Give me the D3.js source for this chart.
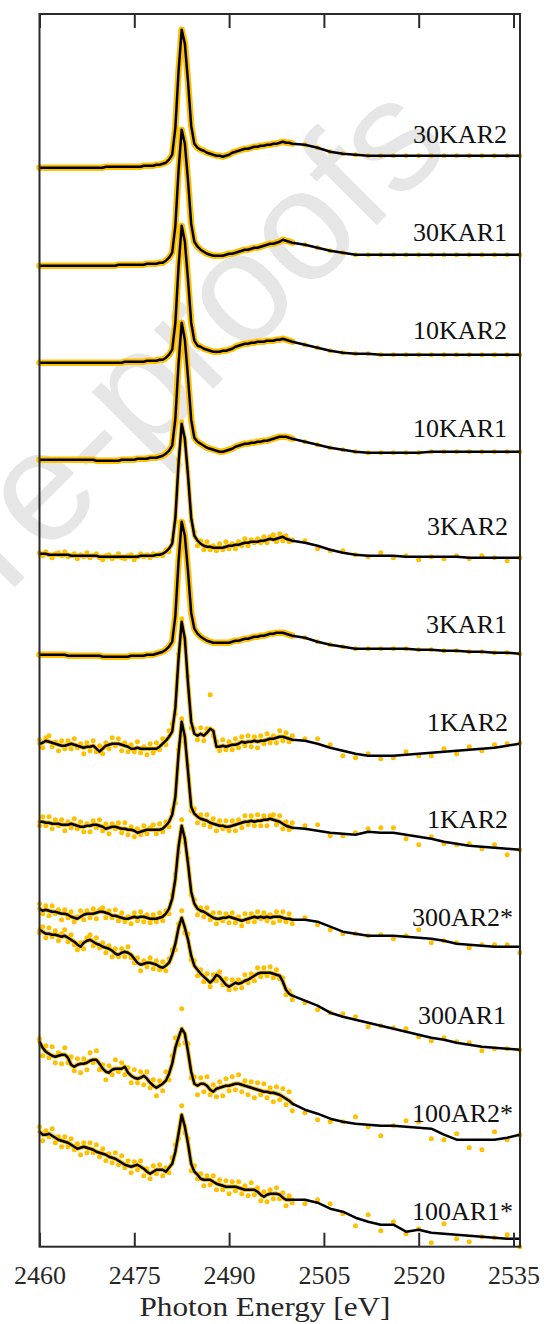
<!DOCTYPE html>
<html><head><meta charset="utf-8">
<script src="https://cdn.jsdelivr.net/npm/d3@7"></script>
<style>body{margin:0;background:#fff}</style>
</head><body>
<svg id="c" width="544" height="1324"></svg>
<script>
// ---------------- DATA ----------------
// photon energy grid [eV]
const energy = [
2460,2460.5,2461,2461.5,2462,2462.5,2463,2463.5,2464,2464.5,
2465,2465.5,2466,2466.5,2467,2467.5,2468,2468.5,2469,2469.5,
2470,2470.5,2471,2471.5,2472,2472.5,2473,2473.5,2474,2474.5,
2475,2475.5,2476,2476.5,2477,2477.5,
2478,2478.5,2479,2479.5,2480,2480.5,2481,2481.5,2482,2482.5,
2483,2483.5,2484,2484.5,2485,2485.5,2486,2486.5,2487,2487.5,
2488,2488.5,2489,2489.5,2490,2490.5,2491,2491.5,2492,2492.5,
2493,2493.5,2494,2494.5,2495,2495.5,2496,2496.5,2497,2497.5,
2498,2498.5,2499,2499.5,2500,
2502,2504,2506,2508,2510,2512,2514,2516,2518,2520,2522,2524,2526,2528,2530,2532,2534,2536];

const xTicks = [2460,2475,2490,2505,2520,2535];
const samples = ["30KAR2","30KAR1","10KAR2","10KAR1","3KAR2","3KAR1","1KAR2","1KAR2","300AR2*","300AR1","100AR2*","100AR1*"];
// vertical stacking offsets (normalized intensity x100)
const offsets = [1079,981,884,787,693,592,503,425,338,317,205,115];

// smoothed spectra (normalized intensity x100, relative to offset)
const fit_30KAR2 = [0,0,0,0,0,0,0,0,0,0, 0,0,0,0,0,0,0,0,0,0, 0,1,1,1,1,1,1,1,1,1, 1,1,1,2,2,2,
 2,3,3,4,5,8,13,40,96,138,124,86,42,24,20,18,17,15,14,13,
 12,12,11,12,13,15,16,17,18,19,19,20,21,21,22,22,23,23,24,24,25,26,25,25,24,
 23,20,16,14,13,12,12,12,12,12,12,12,12,12,12,12,12,12];
const fit_30KAR1 = [0,0,0,0,0,0,0,0,0,0, 0,0,0,0,0,0,0,0,0,0, 0,0,0,0,0,1,1,1,1,1, 1,1,1,1,2,2,
 2,2,3,3,5,8,13,40,95,136,122,85,42,24,19,16,14,12,11,10,
 10,10,10,11,12,12,13,14,15,16,16,17,18,18,19,20,21,22,22,23,24,26,25,24,23,
 21,18,15,13,11,11,11,11,11,11,11,11,11,11,11,11,11,11];
const fit_10KAR2 = [0,0,0,0,0,0,0,0,0,0, 0,0,0,0,0,0,0,0,0,0, 0,0,0,0,0,0,0,1,1,1, 1,1,1,1,2,2,
 2,2,3,3,5,8,13,40,96,137,121,83,40,22,17,16,14,13,12,11,
 11,11,12,12,13,14,16,17,18,19,19,20,20,21,21,21,22,22,22,23,23,24,23,22,21,
 18,15,12,10,9,9,8,8,8,8,8,8,8,8,8,8,8,8];
const fit_10KAR1 = [0,0,0,0,0,0,0,0,0,0, 0,0,0,0,0,0,0,0,-1,-1, -1,-1,-1,-1,-1,-1,0,0,0,0, 0,1,1,1,1,2,
 2,2,3,4,6,9,14,41,96,137,120,82,40,22,18,16,14,12,11,10,
 9,8,8,9,10,11,13,14,15,16,16,17,17,18,18,19,19,20,21,22,23,23,23,22,21,
 18,15,12,10,8,7,7,7,7,7,8,8,8,8,8,8,8,8];
const fit_3KAR2 = [0,0,0,-1,-1,-1,-1,-1,-1,-1, -2,-2,-2,-2,-2,-2,-2,-2,-2,-3, -3,-3,-3,-3,-3,-3,-3,-3,-3,-3, -3,-3,-2,-2,-2,-2,
 -2,-1,-1,0,2,5,10,36,90,130,115,78,36,18,13,10,8,7,7,6,
 6,6,6,7,8,8,9,9,10,11,11,12,12,12,13,13,14,15,14,15,16,17,15,14,13,
 11,8,4,1,-1,-2,-2,-2,-3,-3,-3,-3,-3,-4,-4,-4,-4,-4];
const fit_3KAR1 = [0,0,0,0,0,0,0,0,0,-1, -1,-1,-1,-1,-1,-1,-1,-1,-1,-1, -2,-2,-2,-2,-2,-2,-2,-2,-2,-1, -1,-1,-1,-1,0,0,
 0,1,2,3,5,8,13,39,93,133,119,83,42,26,21,18,16,14,13,12,
 12,12,12,12,12,13,14,14,15,16,16,17,18,18,19,19,20,21,21,22,22,22,21,20,19,
 17,13,10,8,6,6,6,6,6,5,5,4,4,3,3,2,2,1];
const fit_1KAR2a = [0,1,3,2,1,0,-1,-2,-2,-1, 0,-1,-2,-3,-4,-3,-3,-2,-5,-8, -5,-2,-1,0,0,0,-1,-2,-3,-5, -5,-4,-5,-5,-5,-5,
 -5,-5,-3,0,3,7,12,36,85,122,105,60,22,10,8,10,8,11,15,13,
 -3,-3,-2,-3,-2,-1,-1,0,2,1,2,2,3,2,3,3,4,5,5,6,7,7,6,5,4,
 3,0,-4,-7,-10,-12,-12,-12,-11,-10,-9,-8,-7,-6,-5,-4,-2,0];
const fit_1KAR2b = [0,0,-1,-1,-2,-2,-2,-3,-3,-3, -2,-3,-4,-5,-5,-4,-4,-3,-3,-4, -5,-7,-6,-5,-5,-6,-7,-7,-8,-8, -9,-11,-10,-9,-8,-8,
 -8,-8,-8,-7,-4,0,7,25,68,100,85,50,15,8,5,3,2,1,-1,-2,
 -3,-4,-4,-5,-5,-4,-3,-2,-1,0,0,1,0,1,1,2,2,3,2,1,0,-2,-4,-5,-6,
 -7,-9,-11,-12,-13,-10,-11,-11,-13,-15,-17,-20,-22,-24,-25,-26,-27,-28];
const fit_300AR2 = [0,-2,-1,-2,-3,-3,-4,-5,-5,-6, -8,-9,-10,-8,-6,-5,-5,-5,-4,-3, -3,-4,-5,-7,-7,-8,-9,-10,-10,-9, -8,-9,-8,-8,-9,-10,
 -10,-10,-9,-8,-5,0,10,30,62,83,70,45,17,5,0,-2,-3,-5,-7,-9,
 -10,-10,-9,-9,-8,-9,-10,-11,-12,-11,-10,-9,-8,-9,-8,-9,-8,-9,-8,-8,-8,-9,-10,-10,-11,
 -11,-13,-18,-23,-25,-27,-27,-27,-28,-29,-30,-32,-35,-36,-37,-38,-38,-38];
const fit_300AR1 = [0,-2,-4,-4,-5,-5,-6,-7,-6,-8, -10,-12,-15,-17,-13,-11,-10,-12,-14,-15, -17,-18,-19,-21,-24,-25,-23,-22,-23,-25, -29,-33,-35,-34,-33,-33,
 -34,-35,-37,-38,-36,-33,-25,-14,2,12,2,-10,-26,-36,-40,-44,-47,-50,-53,-50,
 -45,-47,-51,-55,-57,-55,-53,-54,-53,-51,-50,-48,-46,-44,-43,-43,-43,-43,-44,-45,-46,-52,-60,-64,-66,
 -71,-76,-83,-87,-90,-93,-96,-99,-102,-105,-108,-110,-113,-115,-117,-118,-119,-120];
const fit_100AR2 = [0,-6,-10,-12,-14,-15,-14,-13,-13,-16, -23,-25,-23,-22,-22,-21,-19,-18,-18,-22, -27,-30,-31,-28,-27,-27,-27,-25,-31,-34, -36,-37,-36,-34,-37,-41,
 -44,-46,-44,-42,-39,-32,-22,-6,4,13,8,-10,-30,-42,-44,-42,-42,-44,-48,-50,
 -47,-46,-45,-44,-44,-43,-42,-42,-43,-44,-45,-46,-47,-48,-49,-50,-50,-51,-51,-52,-53,-55,-57,-59,-62,
 -68,-72,-77,-80,-82,-83,-84,-84,-85,-86,-87,-93,-98,-98,-98,-98,-96,-93];
const fit_100AR1 = [0,-3,-3,-2,-4,-6,-8,-9,-10,-11, -13,-15,-17,-16,-15,-16,-17,-18,-20,-21, -22,-23,-25,-26,-27,-29,-31,-33,-34,-35, -34,-33,-35,-37,-40,-42,
 -40,-38,-38,-38,-40,-36,-32,-20,-2,17,5,-12,-32,-40,-43,-47,-48,-48,-48,-50,
 -52,-53,-54,-55,-55,-55,-55,-56,-57,-58,-58,-58,-58,-60,-63,-65,-63,-62,-62,-62,-63,-66,-68,-68,-68,
 -68,-71,-77,-80,-86,-90,-93,-93,-100,-98,-101,-102,-103,-104,-105,-106,-107,-107];

// measured-point residuals from the smoothed curve (same units)
const resid_3KAR2 = [1,-2,2,0,-3,1,2,-1,3,-2, 0,2,-3,1,-1,3,-2,0,2,-1, -3,1,2,-2,0,3,-1,-2,1,2, -3,0,2,-1,1,-2,
 2,-1,1,-2,2,-3,3,-4,4,2,-3,4,-3,4,-5,3,-4,5,-3,2,
 -3,4,-2,5,-3,2,-4,3,-2,4,-3,2,-1,3,-2,4,-3,2,5,-3,4,-4,3,-2,1,
 2,-3,-1,2,0,-1,3,-2,1,-3,0,-2,1,-1,2,0,-3,0];
const resid_1KAR2a = [4,-5,3,6,-4,2,-6,5,-3,4, -5,6,-2,3,-6,4,-4,5,-3,6, -5,3,-4,6,-2,5,-6,3,-5,4, -3,6,-4,2,-6,5,
 -4,6,-3,5,-4,6,8,-6,5,3,-5,7,-6,5,-4,6,-5,4,34,-5,
 5,-4,6,-3,4,-5,6,-4,5,-3,6,-5,4,-6,5,-3,6,-4,3,-5,6,-4,5,-3,4,
 2,5,3,-5,-4,2,-3,-2,3,-2,-3,3,-3,3,-2,3,2,1];
const resid_1KAR2b = [-4,5,-3,6,-5,4,-2,5,-6,3, -4,6,-3,5,-5,2,-6,4,-3,6, -4,5,-6,3,-2,5,-4,6,-5,3, -6,4,-3,5,-4,2,
 5,-4,6,-3,4,-5,5,-6,4,3,-5,6,-4,5,-6,4,-5,6,-4,5,
 -6,5,-3,6,-4,5,-6,4,-5,6,-3,5,-4,6,-5,4,-6,3,5,-4,6,-5,4,-3,5,
 3,6,-3,-2,2,3,5,5,-4,-8,2,-2,-1,2,-2,3,-6,0];
const resid_300AR2 = [5,-3,4,-5,6,-2,3,-6,4,-3, 5,-4,2,6,-5,3,-4,5,-6,2, 4,-5,3,-2,6,-4,5,-3,2,-6, 4,-3,5,-5,3,-4,
 4,-3,5,-4,3,-5,4,5,-6,6,-4,5,-3,4,-6,3,-5,6,-4,5,
 -5,6,-3,4,-6,5,-4,3,-5,6,-3,4,-5,6,-2,5,-4,3,-6,5,-4,6,-3,5,-4,
 2,-3,-3,-2,0,0,1,-3,1,8,-4,0,1,-3,1,2,2,-6];
const resid_300AR1 = [-3,5,-4,6,-2,4,-5,3,6,-4, 5,-3,-5,4,-6,3,5,-4,6,-3, 4,-5,3,-6,5,-2,4,-5,6,-3, -4,5,-6,3,-4,5,
 -5,4,-3,6,-5,4,5,-6,4,7,-5,6,-4,5,-6,4,-5,6,-4,5,
 -6,5,-4,6,-3,5,-6,4,-5,6,-3,4,-5,6,-4,5,-3,6,-4,5,-3,4,-5,3,-4,
 -2,-4,0,3,3,-4,0,1,3,-2,-3,2,1,2,-4,-1,0,0];
const resid_100AR2 = [3,-8,6,-4,9,-6,3,-9,7,-5, 8,-4,6,-9,5,-7,8,-3,9,-6, 4,-8,7,-5,9,-3,6,-8,5,-7, 8,-4,6,-9,7,-5,
 6,-8,5,-7,9,-6,8,10,-7,20,-9,8,-6,7,-9,6,-8,9,-5,7,
 -8,6,-9,7,-5,8,-6,9,-7,5,-8,6,-9,7,-4,8,-6,5,-9,7,-5,8,-6,9,-7,
 -3,-6,-3,0,7,-2,-10,0,6,6,-10,-5,6,-8,-10,8,-2,0];
const resid_100AR1 = [5,-6,4,-3,7,-5,3,-6,5,-4, 6,-3,5,-7,4,-5,6,-3,7,-4, 5,-6,3,-5,6,-4,7,-3,5,-6, 4,-5,6,-7,3,-5,
 6,-4,5,-6,4,-5,6,7,-5,9,-6,5,-7,6,-4,5,-6,4,-5,6,
 -6,5,-4,6,-7,5,-4,6,-5,4,-6,7,-5,4,-6,5,-7,4,-5,6,-4,5,-6,4,-3,
 -4,3,5,-2,-8,7,-6,3,-2,1,-10,10,-4,-6,0,0,4,-8];

const fits = [fit_30KAR2,fit_30KAR1,fit_10KAR2,fit_10KAR1,fit_3KAR2,fit_3KAR1,fit_1KAR2a,fit_1KAR2b,fit_300AR2,fit_300AR1,fit_100AR2,fit_100AR1];
const resids = [null,null,null,null,resid_3KAR2,null,resid_1KAR2a,resid_1KAR2b,resid_300AR2,resid_300AR1,resid_100AR2,resid_100AR1];

// ---------------- LAYOUT ----------------
const L = {left:39.5, right:520, top:14, bottom:1246.7};
const gold = "#FFC000";
const serif = "'Liberation Serif', 'Times New Roman', Times, serif";
const labelEnd = [507,507,507,507,508,507,508,508,513,506,513,513];
const labelTop = 143.3, labelStep = 97.88;

const svg = d3.select("#c");
const x = d3.scaleLinear().domain([2460, 2536.03]).range([L.left, L.right]);
const y = d3.scaleLinear().domain([0, 1232.7]).range([L.bottom, L.top]);

// watermark
svg.append("text")
  .attr("transform","translate(454,148) rotate(-45)")
  .attr("text-anchor","end")
  .attr("font-family","'Liberation Sans', Arial, sans-serif")
  .attr("font-size",158)
  .attr("fill","#e6e6e6")
  .text("Journal Pre-proofs");

const plot = svg.append("g");
const denseMax = 2500;

samples.forEach((name,i)=>{
  const fit = fits[i], res = resids[i], off = offsets[i];
  const pts = energy.map((e,k)=>({e, f: off+fit[k], r: off+fit[k]+(res?res[k]:0)}));
  const line = d3.line().x(d=>x(d.e)).y(d=>y(d.f));
  const g = plot.append("g");
  g.append("path").datum(pts.filter(d=>d.e<=denseMax))
    .attr("d", line).attr("fill","none").attr("stroke",gold)
    .attr("stroke-width", res?4.5:6.5).attr("stroke-linejoin","round").attr("stroke-linecap","round");
  g.selectAll("circle").data(pts).join("circle")
    .attr("cx",d=>x(d.e)).attr("cy",d=>y(d.r)).attr("r",2.5).attr("fill",gold);
  g.append("path").datum(pts)
    .attr("d", line).attr("fill","none").attr("stroke","#000")
    .attr("stroke-width",2.5).attr("stroke-linejoin","round");
  svg.append("text")
    .attr("x", labelEnd[i]).attr("y", labelTop + i*labelStep)
    .attr("text-anchor","end")
    .attr("font-family",serif)
    .attr("font-size",26).attr("fill","#111")
    .text(name);
});

// frame
svg.append("rect").attr("x",L.left).attr("y",L.top)
  .attr("width",L.right-L.left).attr("height",L.bottom-L.top)
  .attr("fill","none").attr("stroke","#2b2b2b").attr("stroke-width",2);

const axB = svg.append("g").attr("transform",`translate(0,${L.bottom})`)
  .call(d3.axisBottom(x).tickValues(xTicks).tickSize(-14).tickPadding(19).tickFormat(d3.format("d")));
const axT = svg.append("g").attr("transform",`translate(0,${L.top})`)
  .call(d3.axisTop(x).tickValues(xTicks).tickSize(-14).tickFormat(""));
[axB,axT].forEach(a=>{
  a.select(".domain").remove();
  a.selectAll(".tick line").attr("stroke","#2b2b2b").attr("stroke-width",2);
});
axB.selectAll(".tick text").attr("font-family",serif)
  .attr("font-size",26).attr("fill","#262626");

svg.append("text").attr("x",265).attr("y",1316).attr("text-anchor","middle")
  .attr("font-family",serif)
  .attr("font-size",27).attr("fill","#262626")
  .attr("textLength",251).attr("lengthAdjust","spacingAndGlyphs")
  .text("Photon Energy [eV]");
</script>
</body></html>
